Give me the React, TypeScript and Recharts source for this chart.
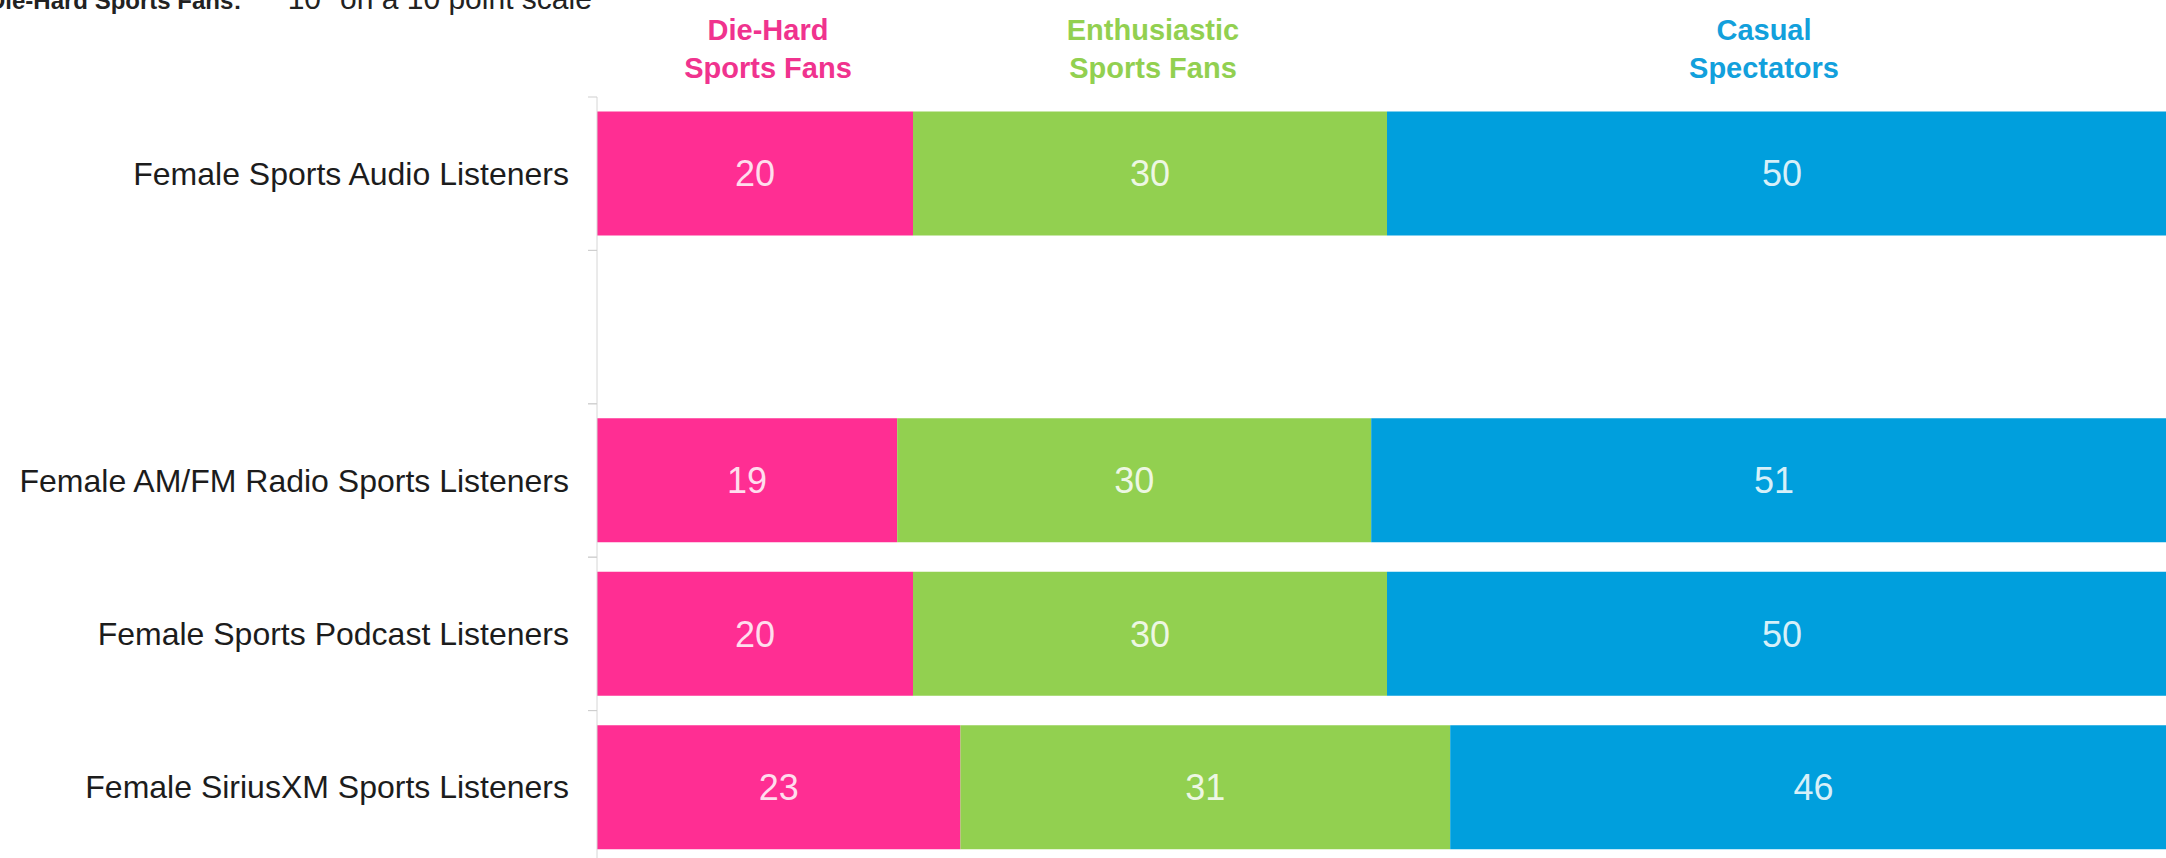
import React from 'react';
import { BarChart, Bar, XAxis, YAxis, LabelList } from 'recharts';

const categories = [
  'Female Sports Audio Listeners',
  '',
  'Female AM/FM Radio Sports Listeners',
  'Female Sports Podcast Listeners',
  'Female SiriusXM Sports Listeners',
];
const dieHard = [20, null, 19, 20, 23];
const enthusiastic = [30, null, 30, 30, 31];
const casual = [50, null, 51, 50, 46];

const seriesNames = ['Die-Hard', 'Enthusiastic', 'Casual'];
const headerLines = [
  ['Die-Hard', 'Sports Fans'],
  ['Enthusiastic', 'Sports Fans'],
  ['Casual', 'Spectators'],
];

const PINK = '#ff2e93';
const GREEN = '#92d050';
const BLUE = '#009fdd';
const FONT = '"Liberation Sans", Arial, sans-serif';

const data = categories.map((name, i) => ({
  name,
  dieHard: dieHard[i],
  enthusiastic: enthusiastic[i],
  casual: casual[i],
}));

const AXIS_X = 597;
const PLOT_TOP = 97;
const PLOT_H = 767;
const BAND = PLOT_H / categories.length;

const CategoryTick = (props: any) => {
  const { y, payload } = props;
  return (
    <g>
      <text
        x={569}
        y={y}
        textAnchor="end"
        dominantBaseline="central"
        fontSize={32}
        fontFamily={FONT}
        fill="#1c1c1c"
      >
        {payload.value}
      </text>
      <line x1={AXIS_X - 9} x2={AXIS_X} y1={y - BAND / 2} y2={y - BAND / 2} stroke="#cfcfcf" />
      <line x1={AXIS_X - 9} x2={AXIS_X} y1={y + BAND / 2} y2={y + BAND / 2} stroke="#cfcfcf" />
    </g>
  );
};

const headerX = [768, 1153, 1764];
const headerColors = ['#f0338e', GREEN, '#12a0dc'];

export default function App() {
  return (
    <div style={{ position: 'absolute', left: 0, top: 0, width: 2166, height: 858, overflow: 'hidden', background: '#fff' }}>
      <BarChart
        width={2200}
        height={880}
        data={data}
        layout="vertical"
        barCategoryGap="9.5%"
        margin={{ top: PLOT_TOP, right: 23, bottom: 16, left: 0 }}
      >
        <XAxis type="number" domain={[0, 100]} hide />
        <YAxis
          type="category"
          dataKey="name"
          width={AXIS_X}
          interval={0}
          tickLine={false}
          axisLine={{ stroke: '#d6d6d6' }}
          tick={<CategoryTick />}
        />
        <Bar dataKey="dieHard" name={seriesNames[0]} stackId="a" fill={PINK} isAnimationActive={false}>
          <LabelList dataKey="dieHard" position="center" fill="#ffffff" fillOpacity={0.85} fontSize={36} fontFamily={FONT} />
        </Bar>
        <Bar dataKey="enthusiastic" name={seriesNames[1]} stackId="a" fill={GREEN} isAnimationActive={false}>
          <LabelList dataKey="enthusiastic" position="center" fill="#ffffff" fillOpacity={0.85} fontSize={36} fontFamily={FONT} />
        </Bar>
        <Bar dataKey="casual" name={seriesNames[2]} stackId="a" fill={BLUE} isAnimationActive={false}>
          <LabelList dataKey="casual" position="center" fill="#ffffff" fillOpacity={0.85} fontSize={36} fontFamily={FONT} />
        </Bar>
      </BarChart>
      <svg
        width={2166}
        height={100}
        style={{ position: 'absolute', left: 0, top: 0, pointerEvents: 'none' }}
      >
        {/* title runs off the top edge in the source image */}
        <text y={9} fontFamily={FONT} fill="#222">
          <tspan x={-12} fontSize={24} fontWeight="bold">Die-Hard Sports Fans:</tspan>
          <tspan x={277} fontSize={30}>"10" on a 10 point scale</tspan>
        </text>
        {headerLines.map((lines, i) => (
          <text
            key={i}
            x={headerX[i]}
            textAnchor="middle"
            fontFamily={FONT}
            fontWeight="bold"
            fontSize={29}
            fill={headerColors[i]}
          >
            <tspan x={headerX[i]} y={40}>{lines[0]}</tspan>
            <tspan x={headerX[i]} y={78}>{lines[1]}</tspan>
          </text>
        ))}
      </svg>
    </div>
  );
}
